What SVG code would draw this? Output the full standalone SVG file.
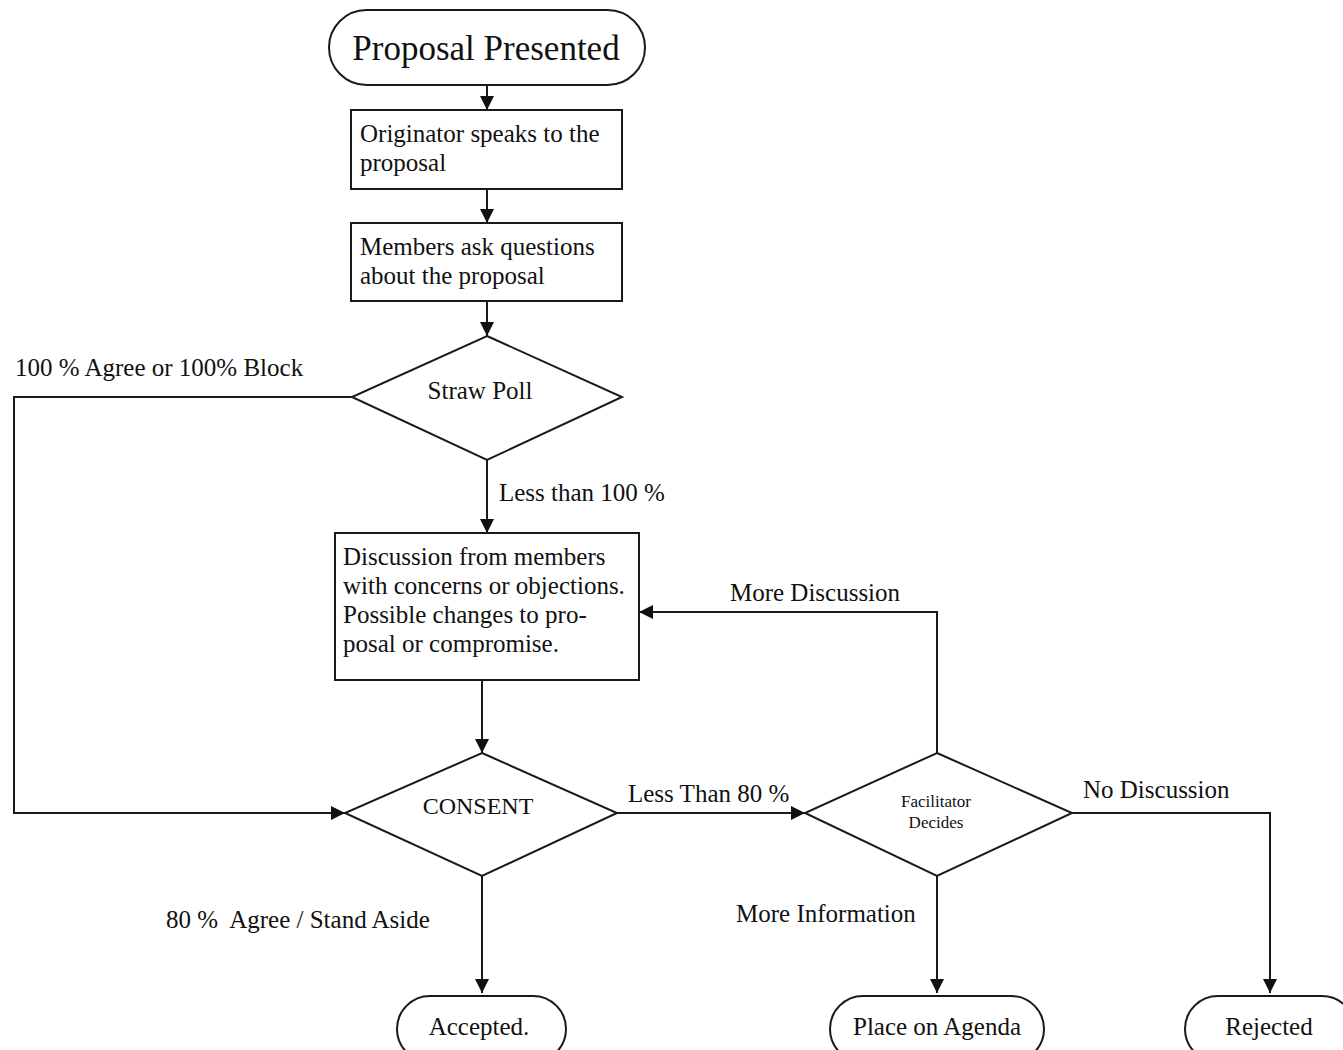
<svg xmlns="http://www.w3.org/2000/svg" width="1343" height="1050" viewBox="0 0 1343 1050">
<style>
  .shape { fill: #fff; stroke: #1a1a1a; stroke-width: 2; }
  .conn { fill: none; stroke: #1a1a1a; stroke-width: 2; }
  text { font-family: "Liberation Serif", "Times New Roman", serif; fill: #111; }
  .t { font-size: 25px; }
  .lbl { font-size: 25px; }
</style>
<defs>
  <marker id="arr" viewBox="0 0 14 14" refX="14" refY="7" markerWidth="14" markerHeight="14" markerUnits="userSpaceOnUse" orient="auto">
    <path d="M0,0 L14,7 L0,14 z" fill="#111"/>
  </marker>
</defs>
<rect width="1343" height="1050" fill="#fff"/>

<g id="connectors">
  <line class="conn" x1="487" y1="85" x2="487" y2="110" marker-end="url(#arr)"/>
  <line class="conn" x1="487" y1="189" x2="487" y2="223" marker-end="url(#arr)"/>
  <line class="conn" x1="487" y1="301" x2="487" y2="336" marker-end="url(#arr)"/>
  <line class="conn" x1="487" y1="460" x2="487" y2="533" marker-end="url(#arr)"/>
  <polyline class="conn" points="352,397 14,397 14,813 345,813" marker-end="url(#arr)"/>
  <line class="conn" x1="482" y1="680" x2="482" y2="753" marker-end="url(#arr)"/>
  <line class="conn" x1="617" y1="813" x2="805" y2="813" marker-end="url(#arr)"/>
  <polyline class="conn" points="937,753 937,612 639,612" marker-end="url(#arr)"/>
  <polyline class="conn" points="1072,813 1270,813 1270,993" marker-end="url(#arr)"/>
  <line class="conn" x1="937" y1="876" x2="937" y2="993" marker-end="url(#arr)"/>
  <line class="conn" x1="482" y1="876" x2="482" y2="993" marker-end="url(#arr)"/>
  <text class="lbl" x="15" y="376">100 % Agree or 100% Block</text>
  <text class="lbl" x="499" y="501">Less than 100 %</text>
  <text class="lbl" x="815" y="601" text-anchor="middle">More Discussion</text>
  <text class="lbl" x="628" y="802">Less Than 80 %</text>
  <text class="lbl" x="1083" y="798">No Discussion</text>
  <text class="lbl" x="736" y="922">More Information</text>
  <text class="lbl" x="166" y="928" xml:space="preserve">80 %  Agree / Stand Aside</text>
</g>

<g id="start">
  <rect class="shape" x="329" y="10" width="316" height="75" rx="37.5"/>
  <text x="486" y="60" font-size="35" text-anchor="middle">Proposal Presented</text>
</g>
<g id="originator">
  <rect class="shape" x="351" y="110" width="271" height="79"/>
  <text class="t" x="360" y="142">Originator speaks to the</text>
  <text class="t" x="360" y="171">proposal</text>
</g>
<g id="questions">
  <rect class="shape" x="351" y="223" width="271" height="78"/>
  <text class="t" x="360" y="255">Members ask questions</text>
  <text class="t" x="360" y="284">about the proposal</text>
</g>
<g id="straw-poll">
  <polygon class="shape" points="487,336 622,397 487,460 352,397"/>
  <text x="480" y="399" font-size="25" text-anchor="middle">Straw Poll</text>
</g>
<g id="discussion">
  <rect class="shape" x="335" y="533" width="304" height="147"/>
  <text class="t" x="343" y="565">Discussion from members</text>
  <text class="t" x="343" y="594">with concerns or objections.</text>
  <text class="t" x="343" y="623">Possible changes to pro-</text>
  <text class="t" x="343" y="652">posal or compromise.</text>
</g>
<g id="consent">
  <polygon class="shape" points="482,753 617,813 482,876 345,813"/>
  <text x="478" y="814" font-size="24" text-anchor="middle">CONSENT</text>
</g>
<g id="facilitator">
  <polygon class="shape" points="937,753 1072,813 937,876 805,813"/>
  <text x="936" y="807" font-size="17" text-anchor="middle">Facilitator</text>
  <text x="936" y="828" font-size="17" text-anchor="middle">Decides</text>
</g>
<g id="accepted">
  <rect class="shape" x="397" y="996" width="169" height="66" rx="33"/>
  <text x="479" y="1035" font-size="25" text-anchor="middle">Accepted.</text>
</g>
<g id="agenda">
  <rect class="shape" x="830" y="996" width="214" height="66" rx="33"/>
  <text x="937" y="1035" font-size="25" text-anchor="middle">Place on Agenda</text>
</g>
<g id="rejected">
  <rect class="shape" x="1185" y="996" width="170" height="66" rx="33"/>
  <text x="1269" y="1035" font-size="25" text-anchor="middle">Rejected</text>
</g>
</svg>
